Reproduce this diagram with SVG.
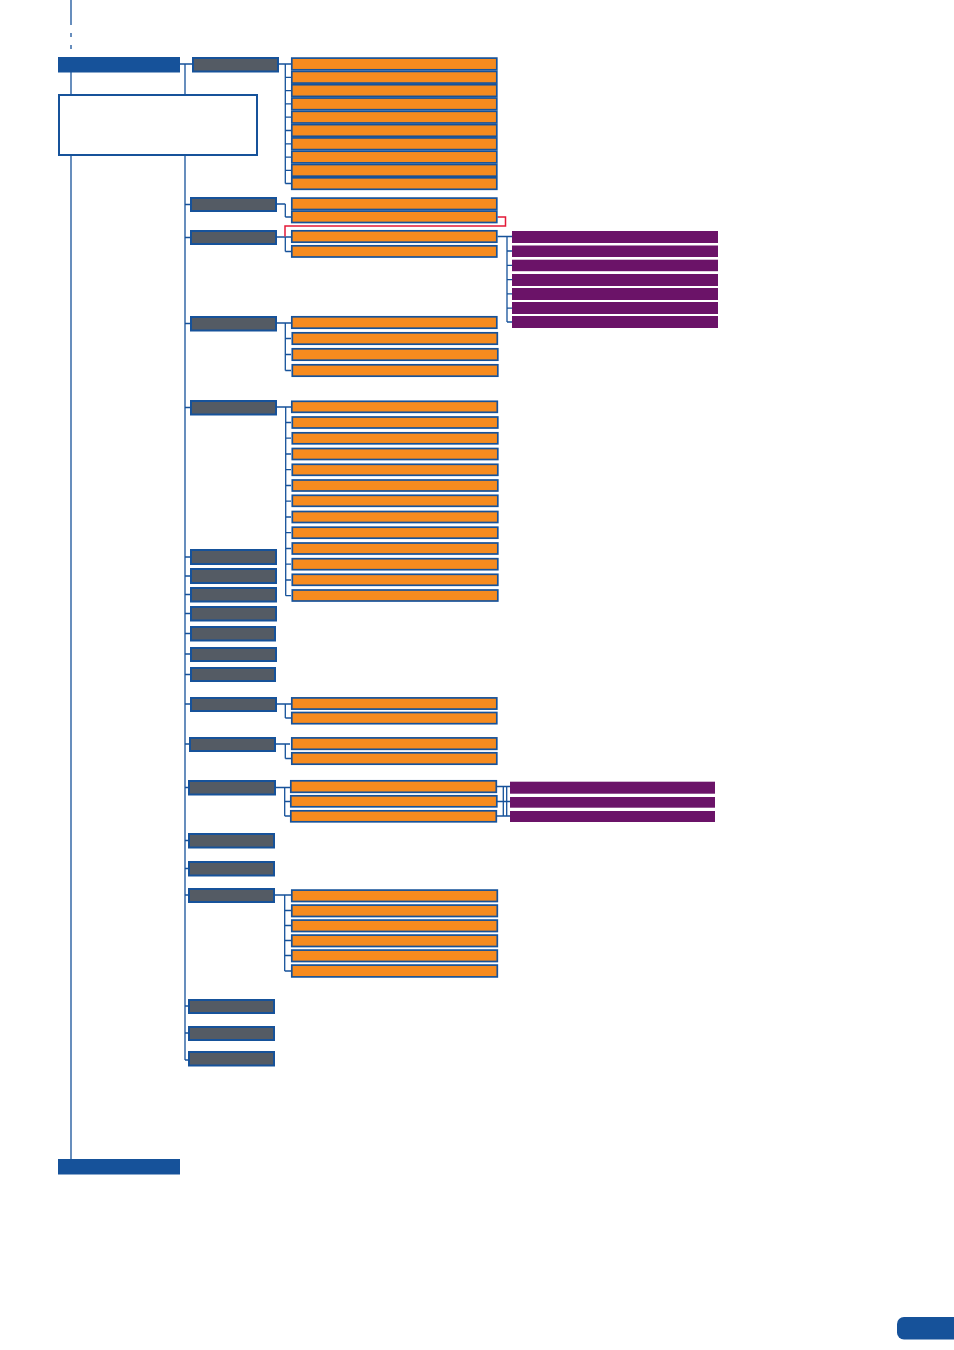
<svg xmlns="http://www.w3.org/2000/svg" width="954" height="1350" viewBox="0 0 954 1350">
<style>
.b{fill:#16529A}
.g{fill:#545B64;stroke:#16529A;stroke-width:2}
.o{fill:#F68B1F;stroke:#16529A;stroke-width:1.7}
.p{fill:#6B1368}
.c{fill:none;stroke:#16529A;stroke-width:1.3}
.r{fill:none;stroke:#E31937;stroke-width:1.5}
.w{fill:#FFFFFF;stroke:#16529A;stroke-width:2}
</style>
<g id="connectors">
<path class="c" d="M71,0V25M71,33V37M71,45V49M71,72V1159"/>
<path class="c" d="M180,64H192M185,64V1060"/>
<path class="c" d="M185,204.5H190M185,237.5H190M185,323.5H190M185,407.5H190M185,557H190M185,576H190M185,594.5H190M185,613.5H190M185,633.5H190M185,654H190M185,674.5H190M185,704H190M185,744H189M185,787.5H188M185,840.5H188M185,868.5H188M185,895H188M185,1006H188M185,1033H188M185,1060H188"/>
<path class="c" d="M279,64H285.3M285.3,64V183.5M285.3,64H291M285.3,77.3H291M285.3,90.6H291M285.3,103.9H291M285.3,117.2H291M285.3,130.5H291M285.3,143.8H291M285.3,157.1H291M285.3,170.4H291M285.3,183.5H291"/>
<path class="c" d="M277,204H285.3M285.3,204V217M285.3,217H291"/>
<path class="c" d="M277,237H291M285.3,237V251.5M285.3,251.5H291"/>
<path class="c" d="M277,323H291M285.3,323V370.5M285.3,338.5H291M285.3,354.5H291M285.3,370.5H291"/>
<path class="c" d="M277,407H291M285.7,407V595.7M285.7,422.5H291M285.7,438.2H291M285.7,454H291M285.7,469.7H291M285.7,485.5H291M285.7,501.2H291M285.7,517H291M285.7,532.7H291M285.7,548.5H291M285.7,564.2H291M285.7,580H291M285.7,595.7H291"/>
<path class="c" d="M277,704H291M285.3,704V718M285.3,718H291"/>
<path class="c" d="M276,744H290M285.3,744V758.5M285.3,758.5H291"/>
<path class="c" d="M276,787.5H290M284.7,787.5V816M284.7,801.5H290M284.7,816H290"/>
<path class="c" d="M275,895H291M284.7,895V971M284.7,910.5H291M284.7,925.5H291M284.7,940.5H291M284.7,955.5H291M284.7,971H291"/>
<path class="c" d="M497.5,236.5H512M507,236.5V322M507,251H512M507,265.3H512M507,279.6H512M507,293.9H512M507,308.2H512M507,322H512"/>
<path class="c" d="M497,786.5H510M497,801.5H507M497,816H507M503.3,786.5V816M506.7,786.5V816M506.7,801.5H510M506.7,816H510"/>
<polyline class="r" points="497.5,217 505.5,217 505.5,226 285,226 285,236.5"/>
</g>
<g id="n_top"><rect class="b" x="58" y="57" width="122" height="15.5"/></g>
<g id="n_note"><rect class="w" x="59" y="95" width="198" height="60"/></g>
<g id="n_bottom"><rect class="b" x="58" y="1159" width="122" height="15.5"/></g>
<g id="n_page"><rect class="b" x="897" y="1317" width="70" height="22.5" rx="7"/></g>
<g id="gray">
<rect class="g" x="193" y="58" width="85" height="13.5"/>
<rect class="g" x="191" y="198" width="85" height="13"/>
<rect class="g" x="191" y="231" width="85" height="13"/>
<rect class="g" x="191" y="317" width="85" height="13.5"/>
<rect class="g" x="191" y="401" width="85" height="13.5"/>
<rect class="g" x="191" y="550" width="85" height="14"/>
<rect class="g" x="191" y="569" width="85" height="14"/>
<rect class="g" x="191" y="588" width="85" height="13.5"/>
<rect class="g" x="191" y="607" width="85" height="13.5"/>
<rect class="g" x="191" y="627" width="84" height="13.5"/>
<rect class="g" x="191" y="648" width="85" height="13"/>
<rect class="g" x="191" y="668" width="84" height="13"/>
<rect class="g" x="191" y="698" width="85" height="13"/>
<rect class="g" x="190" y="738" width="85" height="13"/>
<rect class="g" x="189" y="781" width="86" height="13.5"/>
<rect class="g" x="189" y="834" width="85" height="13.5"/>
<rect class="g" x="189" y="862" width="85" height="13.5"/>
<rect class="g" x="189" y="889" width="85" height="13"/>
<rect class="g" x="189" y="1000" width="85" height="13"/>
<rect class="g" x="189" y="1027" width="85" height="13"/>
<rect class="g" x="189" y="1052" width="85" height="13.5"/>
</g>
<g id="orange1">
<rect class="o" x="291.8" y="58.1" width="205" height="11.7"/>
<rect class="o" x="291.8" y="71.4" width="205" height="11.7"/>
<rect class="o" x="291.8" y="84.7" width="205" height="11.7"/>
<rect class="o" x="291.8" y="98" width="205" height="11.7"/>
<rect class="o" x="291.8" y="111.3" width="205" height="11.7"/>
<rect class="o" x="291.8" y="124.6" width="205" height="11.7"/>
<rect class="o" x="291.8" y="137.9" width="205" height="11.7"/>
<rect class="o" x="291.8" y="151.2" width="205" height="11.7"/>
<rect class="o" x="291.8" y="164.5" width="205" height="11.7"/>
<rect class="o" x="291.8" y="177.8" width="205" height="11.5"/>
</g>
<g id="orange2">
<rect class="o" x="291.8" y="198.1" width="205" height="11.4"/>
<rect class="o" x="291.8" y="211.1" width="205" height="11.4"/>
</g>
<g id="orange3">
<rect class="o" x="291.8" y="230.8" width="205" height="11.4"/>
<rect class="o" x="291.8" y="245.8" width="205" height="11.2"/>
</g>
<g id="orange4">
<rect class="o" x="291.8" y="316.8" width="205" height="11.4"/>
<rect class="o" x="292.3" y="332.8" width="205" height="11.4"/>
<rect class="o" x="292.3" y="348.8" width="205.5" height="11.4"/>
<rect class="o" x="292.3" y="364.8" width="205.5" height="11.4"/>
</g>
<g id="orange5">
<rect class="o" x="291.8" y="401.3" width="205.5" height="11"/>
<rect class="o" x="292.3" y="417" width="205.5" height="11"/>
<rect class="o" x="292.3" y="432.8" width="205.5" height="11"/>
<rect class="o" x="292.3" y="448.5" width="205.5" height="11"/>
<rect class="o" x="292.3" y="464.3" width="205.5" height="11"/>
<rect class="o" x="292.3" y="480" width="205.5" height="11"/>
<rect class="o" x="292.3" y="495.3" width="205.5" height="11"/>
<rect class="o" x="292.3" y="511.5" width="205.5" height="11"/>
<rect class="o" x="292.3" y="527.2" width="205.5" height="11"/>
<rect class="o" x="292.3" y="543" width="205.5" height="11"/>
<rect class="o" x="292.3" y="558.7" width="205.5" height="11"/>
<rect class="o" x="292.3" y="574.3" width="205.5" height="11"/>
<rect class="o" x="292.3" y="590" width="205.5" height="11"/>
</g>
<g id="orange6">
<rect class="o" x="291.8" y="697.9" width="205" height="11.2"/>
<rect class="o" x="291.8" y="712.5" width="205" height="11.2"/>
</g>
<g id="orange7">
<rect class="o" x="291.8" y="737.9" width="205" height="11.4"/>
<rect class="o" x="291.8" y="752.8" width="205" height="11.4"/>
</g>
<g id="orange8">
<rect class="o" x="290.8" y="780.8" width="205.5" height="11.5"/>
<rect class="o" x="290.8" y="795.8" width="206" height="11"/>
<rect class="o" x="290.8" y="810.8" width="205.5" height="11"/>
</g>
<g id="orange9">
<rect class="o" x="291.8" y="890.1" width="205.5" height="11.4"/>
<rect class="o" x="291.8" y="905.1" width="205.5" height="11.4"/>
<rect class="o" x="291.8" y="920.1" width="205.5" height="11.4"/>
<rect class="o" x="291.8" y="935.1" width="205.5" height="11.4"/>
<rect class="o" x="291.8" y="950.1" width="205.5" height="11.4"/>
<rect class="o" x="291.8" y="965.1" width="205.5" height="11.8"/>
</g>
<g id="purple1">
<rect class="p" x="512" y="231" width="206" height="12"/>
<rect class="p" x="512" y="245.5" width="206" height="11.5"/>
<rect class="p" x="512" y="259.7" width="206" height="11.5"/>
<rect class="p" x="512" y="274" width="206" height="12"/>
<rect class="p" x="512" y="288" width="206" height="12"/>
<rect class="p" x="512" y="302" width="206" height="12"/>
<rect class="p" x="512" y="316" width="206" height="12"/>
</g>
<g id="purple2">
<rect class="p" x="510" y="781.7" width="205" height="12"/>
<rect class="p" x="510" y="797" width="205" height="10.7"/>
<rect class="p" x="510" y="811" width="205" height="11"/>
</g>
</svg>
